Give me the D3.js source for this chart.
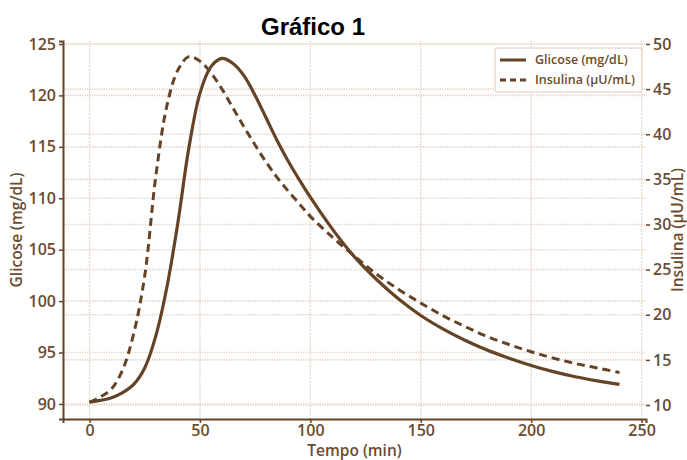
<!DOCTYPE html>
<html>
<head>
<meta charset="utf-8">
<script src="https://cdn.jsdelivr.net/npm/d3@7"></script>
<style>
  body { margin: 0; background: #fff; }
  .tick text { font-family: 'Open Sans', sans-serif; font-weight: 600; fill: #6b4b2e; }
  .axis-title { font-family: 'Open Sans', sans-serif; font-weight: 600; fill: #6b4b2e; }
  .grid line { stroke: #e2d3c4; stroke-width: 1.6; stroke-dasharray: 1.2,1.2; }
  .legend-label { font-family: 'Open Sans', sans-serif; font-weight: 600; fill: #6b4b2e; font-size: 12.5px; }
</style>
</head>
<body>
<div id="chart"></div>
<script>
// Tempo (min)
const tempo = [0, 5, 10, 15, 20, 25, 30, 35, 40, 45, 50, 55, 60, 65, 70, 75, 80, 85, 90, 95, 100, 110, 120, 130, 140, 150, 160, 170, 180, 190, 200, 210, 220, 230, 240];
// Glicose (mg/dL)
const glicose = [90.2, 90.35, 90.6, 91.1, 91.9, 93.5, 96.6, 101.3, 107.6, 114.9, 120.2, 122.8, 123.6, 123.1, 121.9, 120.0, 117.8, 115.6, 113.6, 111.8, 110.1, 107.0, 104.3, 102.1, 100.2, 98.6, 97.3, 96.2, 95.25, 94.45, 93.75, 93.15, 92.65, 92.25, 91.9];
// Insulina (µU/mL)
const insulina = [10.3, 10.9, 11.8, 13.9, 17.9, 24.3, 35.3, 43.1, 47.1, 48.6, 48.1, 46.8, 45.0, 42.9, 40.8, 38.8, 36.9, 35.2, 33.7, 32.3, 30.9, 28.6, 26.5, 24.5, 22.8, 21.3, 19.9, 18.7, 17.6, 16.7, 15.9, 15.2, 14.6, 14.1, 13.6];

const xTicks = [0, 50, 100, 150, 200, 250];
const glicoseTicks = [90, 95, 100, 105, 110, 115, 120, 125];
const insulinaTicks = [10, 15, 20, 25, 30, 35, 40, 45, 50];

class GlucoseChart {

  constructor(_config) {
    this.config = {
      parentElement: _config.parentElement,
      containerWidth: 687,
      containerHeight: 460,
      margin: {top: 41, right: 41, bottom: 41, left: 63},
      colour: '#654327'
    };
    this.initVis();
  }

  initVis() {
    let vis = this;
    const c = vis.config;

    c.width = c.containerWidth - c.margin.left - c.margin.right;
    c.height = c.containerHeight - c.margin.top - c.margin.bottom;

    vis.svg = d3.select(c.parentElement).append('svg')
        .attr('width', c.containerWidth)
        .attr('height', c.containerHeight);

    vis.chart = vis.svg.append('g')
        .attr('transform', `translate(${c.margin.left},${c.margin.top})`);

    // Scales (left axis = glicose, right axis = insulina)
    vis.xScale = d3.scaleLinear().domain([-12, 252]).range([0, c.width]);
    vis.yLeft = d3.scaleLinear().domain([88.54, 125.29]).range([c.height, 0]);
    vis.yRight = d3.scaleLinear().domain([8.45, 50.33]).range([c.height, 0]);

    vis.renderVis();
  }

  renderVis() {
    let vis = this;
    const c = vis.config;

    // Grid lines for both y axes and x
    const grid = vis.chart.append('g').attr('class', 'grid');
    grid.selectAll('.gx').data(xTicks).join('line')
        .attr('x1', d => vis.xScale(d)).attr('x2', d => vis.xScale(d))
        .attr('y1', 0).attr('y2', c.height);
    grid.selectAll('.gl').data(glicoseTicks).join('line')
        .attr('x1', 0).attr('x2', c.width)
        .attr('y1', d => vis.yLeft(d)).attr('y2', d => vis.yLeft(d));
    grid.selectAll('.gr').data(insulinaTicks).join('line')
        .attr('x1', 0).attr('x2', c.width)
        .attr('y1', d => vis.yRight(d)).attr('y2', d => vis.yRight(d));

    // Axes
    const xAxis = vis.chart.append('g')
        .attr('transform', `translate(0,${c.height})`)
        .call(d3.axisBottom(vis.xScale).tickValues(xTicks).tickSize(4).tickPadding(2));
    const yAxisL = vis.chart.append('g')
        .call(d3.axisLeft(vis.yLeft).tickValues(glicoseTicks).tickSize(4).tickPadding(3));
    const yAxisR = vis.chart.append('g')
        .attr('transform', `translate(${c.width},0)`)
        .call(d3.axisRight(vis.yRight).tickValues(insulinaTicks).tickSize(4).tickPadding(3));

    [xAxis, yAxisL, yAxisR].forEach(a => {
      a.selectAll('text').style('font-size', '16px');
      a.selectAll('.tick line').attr('stroke', c.colour).attr('stroke-width', 1.5);
      a.select('.domain').attr('stroke', c.colour).attr('stroke-width', 2);
    });
    yAxisR.select('.domain').remove();

    // Lines
    const points = tempo.map((t, i) => ({t: t, g: glicose[i], ins: insulina[i]}));

    const lineG = d3.line()
        .x(d => vis.xScale(d.t))
        .y(d => vis.yLeft(d.g))
        .curve(d3.curveCatmullRom.alpha(0.5));
    const lineI = d3.line()
        .x(d => vis.xScale(d.t))
        .y(d => vis.yRight(d.ins))
        .curve(d3.curveCatmullRom.alpha(0.5));

    vis.chart.append('path')
        .datum(points)
        .attr('fill', 'none')
        .attr('stroke', c.colour)
        .attr('stroke-width', 3)
        .attr('stroke-dasharray', '8,5')
        .attr('d', lineI);

    vis.chart.append('path')
        .datum(points)
        .attr('fill', 'none')
        .attr('stroke', c.colour)
        .attr('stroke-width', 3.2)
        .attr('d', lineG);

    // Axis titles
    vis.svg.append('text')
        .attr('class', 'axis-title')
        .attr('x', c.margin.left + c.width / 2)
        .attr('y', 456)
        .attr('text-anchor', 'middle')
        .style('font-size', '15.5px')
        .text('Tempo (min)');

    vis.svg.append('text')
        .attr('class', 'axis-title')
        .attr('transform', `translate(22,${c.margin.top + c.height / 2}) rotate(-90)`)
        .attr('text-anchor', 'middle')
        .style('font-size', '15.5px')
        .text('Glicose (mg/dL)');

    vis.svg.append('text')
        .attr('class', 'axis-title')
        .attr('transform', `translate(683,${c.margin.top + c.height / 2}) rotate(-90)`)
        .attr('text-anchor', 'middle')
        .style('font-size', '15.5px')
        .text('Insulina (µU/mL)');

    // Title
    vis.svg.append('text')
        .attr('x', 313)
        .attr('y', 35)
        .attr('text-anchor', 'middle')
        .style('font-family', "'Liberation Sans', Arial, sans-serif")
        .style('font-weight', 'bold')
        .style('font-size', '24px')
        .attr('fill', '#000')
        .text('Gráfico 1');

    vis.renderLegend();
  }

  renderLegend() {
    const vis = this;
    const c = vis.config;
    const legend = vis.chart.append('g')
        .attr('transform', `translate(${495 - c.margin.left},${48 - c.margin.top})`);

    legend.append('rect')
        .attr('width', 147)
        .attr('height', 44)
        .attr('rx', 2)
        .attr('fill', '#fff')
        .attr('fill-opacity', 0.85)
        .attr('stroke', '#dccbbb');

    const items = [
      {label: 'Glicose (mg/dL)', dash: null},
      {label: 'Insulina (µU/mL)', dash: '6,4'}
    ];

    const row = legend.selectAll('.legend-row')
        .data(items)
      .join('g')
        .attr('class', 'legend-row')
        .attr('transform', (d, i) => `translate(0,${12 + i * 20})`);

    row.append('line')
        .attr('x1', 5).attr('x2', 31)
        .attr('stroke', c.colour)
        .attr('stroke-width', 3)
        .attr('stroke-dasharray', d => d.dash);

    row.append('text')
        .attr('class', 'legend-label')
        .attr('x', 40)
        .attr('dy', '0.35em')
        .text(d => d.label);
  }
}

new GlucoseChart({parentElement: '#chart'});
</script>
</body>
</html>
